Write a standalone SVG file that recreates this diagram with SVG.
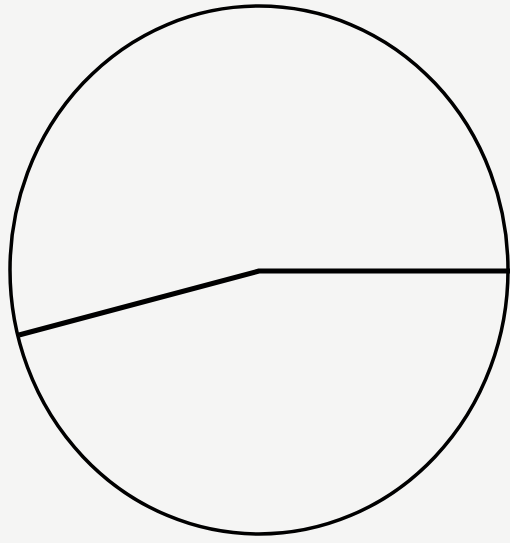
<svg xmlns="http://www.w3.org/2000/svg" width="510" height="543" viewBox="0 0 510 543">
<style>
.outline{fill:none;stroke:#000;stroke-width:3.5}
.line{fill:none;stroke:#000;stroke-width:5;stroke-linejoin:round}
</style>
<rect width="510" height="543" fill="#f5f5f4"/>
<g id="circle"><ellipse class="outline" cx="259" cy="270" rx="249" ry="264"/></g>
<g id="connectors">
<polyline class="line" points="19,335 259,271 510,271"/>
</g>
</svg>
